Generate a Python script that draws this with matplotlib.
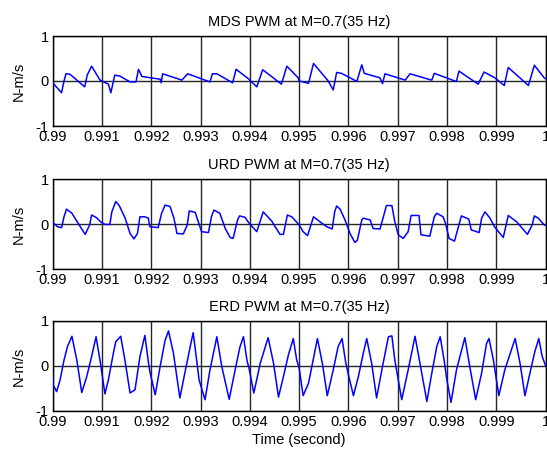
import matplotlib
matplotlib.use('Agg')
import matplotlib.pyplot as plt
import numpy as np

plt.rcParams['font.family'] = ['Liberation Sans', 'DejaVu Sans']
plt.rcParams['axes.unicode_minus'] = False

# time offsets in units of 0.1 ms after t = 0.99 s
mds_t = [0, 1.8, 2.3, 2.7, 3.5, 6.5, 7.0, 7.9, 9.6, 11.3, 11.8, 12.6, 13.6, 15.7, 16.9,
         17.4, 18.1, 21.8, 22.0, 22.3, 26.2, 27.4, 31.9, 32.4, 33.3, 36.5, 37.2, 39.7,
         41.4, 42.6, 46.4, 47.5, 49.8,
         50.0, 51.9, 52.9, 55.9, 56.9, 57.6, 58.6, 61.7, 62.7, 63.2, 66.4, 66.9, 67.4,
         71.5, 72.5, 76.2, 76.9, 77.4, 81.6, 81.9, 82.4, 86.3, 87.5, 89.7, 91.6, 92.4,
         96.5, 97.7, 99.7, 100]
mds_v = [-0.04, -0.26, 0.0, 0.16, 0.15, -0.13, 0.13, 0.33, 0.02, -0.07, -0.26, 0.13, 0.11,
         -0.02, -0.02, 0.26, 0.10, 0.04, -0.04, 0.16, 0.02, 0.16, -0.02, 0.16, 0.16, -0.04,
         0.26, 0.05, -0.13, 0.25, -0.07, 0.33, 0.07,
         0.0, -0.05, 0.39, 0.0, -0.2, 0.19, 0.17, -0.01, 0.36, 0.17, 0.07, -0.06, 0.16,
         0.02, 0.16, 0.04, 0.02, 0.17, 0.0, -0.01, 0.22, -0.07, 0.2, 0.07, -0.1, 0.3,
         -0.1, 0.35, 0.07, 0.05]

urd_t = [0, 0.95, 1.8, 2.3, 2.8, 3.9, 5.2, 6.6, 7.5, 7.9, 8.9, 9.7, 10.6, 11.6, 12.0,
         12.8, 13.5, 14.7, 15.7, 16.5, 17.2, 17.7, 18.7, 19.4, 19.7, 21.4, 22.1, 22.8,
         23.8, 24.6, 25.2, 26.5, 27.3, 27.7, 28.9, 29.3, 30.2, 31.6, 32.2, 32.7, 33.9,
         35.0, 36.0, 36.6, 37.5, 37.9, 39.0, 39.9, 41.4, 42.7, 44.4, 46.1, 46.8, 47.6,
         48.5, 50.0,
         50.8, 51.7, 52.9, 54.2, 55.6, 56.7, 57.2, 57.6, 58.3, 59.3, 60.3, 61.3, 61.8,
         62.7, 63.0, 64.4, 65.0, 66.4, 67.0, 67.7, 68.8, 69.4, 70.1, 71.1, 72.1, 72.7,
         74.3, 74.7, 76.5, 77.4, 77.9, 79.2, 79.7, 80.4, 81.5, 82.4, 82.9, 84.4, 84.9,
         86.5, 87.0, 87.7, 88.7, 89.6, 91.4, 92.4, 94.1, 96.3, 97.3, 97.7, 98.5, 99.7, 100]
urd_v = [0.04, -0.06, -0.08, 0.16, 0.33, 0.24, 0.01, -0.23, -0.02, 0.2, 0.14, 0.05, -0.01,
         -0.01, 0.27, 0.5, 0.41, 0.13, -0.21, -0.33, -0.21, 0.16, 0.16, 0.13, -0.06, -0.08,
         0.24, 0.42, 0.39, 0.13, -0.21, -0.22, -0.02, 0.29, 0.26, 0.13, -0.17, -0.19, 0.16,
         0.31, 0.24, -0.1, -0.3, -0.32, 0.09, 0.18, 0.15, 0.01, -0.17, 0.27, 0.07, -0.23,
         -0.23, 0.2, 0.16, -0.02,
         -0.17, -0.26, 0.16, 0.05, -0.06, -0.11, 0.27, 0.4, 0.33, 0.09, -0.21, -0.41, -0.36,
         0.09, 0.13, 0.09, -0.1, -0.11, 0.13, 0.41, 0.41, 0.05, -0.24, -0.32, -0.17, 0.19,
         0.19, -0.24, -0.27, 0.16, 0.24, 0.16, 0.01, -0.32, -0.38, -0.02, 0.18, 0.11, -0.13,
         -0.19, 0.13, 0.27, 0.13, -0.06, -0.3, 0.19, 0.05, -0.23, -0.01, 0.18, 0.13, -0.02,
         -0.03]

erd_t = [0, 0.1, 0.8, 1.5, 2.3, 3.0, 3.9, 4.9, 5.9, 6.9, 7.9, 8.8, 9.7, 10.6, 11.3, 12.3,
         12.8, 13.8, 14.7, 15.7, 16.7, 17.7, 18.7, 19.4, 19.7, 20.8, 21.8, 22.8, 23.5, 24.5,
         25.8, 26.8, 27.9, 28.5, 29.2, 29.7, 30.9, 31.9, 33.3, 34.3, 35.8, 37.0, 38.0, 38.7,
         39.4, 39.9, 40.8, 42.1, 43.7, 44.8, 45.8, 46.8, 47.8, 48.8, 49.5, 50.0,
         50.8, 51.9, 52.7, 53.7, 54.7, 55.7, 56.9, 57.9, 58.7, 59.4, 60.0, 61.0, 62.0, 63.0,
         63.7, 64.7, 65.7, 66.9, 68.1, 68.8, 69.4, 70.8, 72.1, 73.5, 74.5, 75.9, 76.9, 77.9,
         78.6, 79.4, 79.9, 80.8, 81.9, 83.6, 84.6, 85.8, 87.0, 88.0, 88.5, 89.4, 89.7, 90.5,
         91.7, 93.8, 94.8, 95.8, 96.8, 97.8, 98.6, 99.3, 100]
erd_v = [-0.24, -0.42, -0.57, -0.31, 0.13, 0.43, 0.66, 0.13, -0.59, -0.24, 0.21, 0.65, 0.06,
         -0.62, -0.31, 0.28, 0.54, 0.66, 0.10, -0.60, -0.53, 0.21, 0.68, 0.10, -0.12, -0.64,
         -0.01, 0.57, 0.78, 0.28, -0.71, -0.16, 0.43, 0.74, 0.13, -0.31, -0.75, -0.09, 0.65,
         -0.01, -0.74, -0.09, 0.43, 0.65, 0.13, -0.09, -0.60, 0.06, 0.63, 0.06, -0.69, -0.24,
         0.24, 0.61, 0.13, -0.05,
         -0.66, -0.38, 0.06, 0.61, 0.06, -0.66, -0.09, 0.43, 0.61, 0.10, -0.20, -0.66, -0.24,
         0.28, 0.61, 0.06, -0.71, -0.01, 0.65, 0.67, 0.13, -0.75, -0.09, 0.66, 0.06, -0.79,
         -0.16, 0.43, 0.65, 0.13, -0.27, -0.81, -0.09, 0.63, -0.01, -0.75, -0.16, 0.50, 0.61,
         0.13, -0.09, -0.66, -0.09, 0.61, 0.06, -0.66, -0.16, 0.32, 0.61, 0.21, 0.0]

titles = ['MDS PWM at M=0.7(35 Hz)', 'URD PWM at M=0.7(35 Hz)', 'ERD PWM at M=0.7(35 Hz)']
xticks = [0.99, 0.991, 0.992, 0.993, 0.994, 0.995, 0.996, 0.997, 0.998, 0.999, 1.0]
xticklabels = ['0.99', '0.991', '0.992', '0.993', '0.994', '0.995', '0.996', '0.997',
               '0.998', '0.999', '1']
yticks = [-1, 0, 1]
yticklabels = ['-1', '0', '1']

series = [(mds_t, mds_v), (urd_t, urd_v), (erd_t, erd_v)]
bottoms = [0.72, 0.4022, 0.0867]

fig = plt.figure(figsize=(5.47, 4.5), dpi=100)
fs = 10.5

for i, ((t_off, v), b) in enumerate(zip(series, bottoms)):
    ax = fig.add_axes([0.0963, b, 0.9013, 0.2])
    t = 0.99 + np.array(t_off) * 1e-4
    ax.plot(t, v, color='#0000ff', lw=1.1, zorder=3)
    ax.set_xlim(0.99, 1.0)
    ax.set_ylim(-1, 1)
    ax.set_xticks(xticks)
    ax.set_xticklabels(xticklabels)
    ax.set_yticks(yticks)
    ax.set_yticklabels(yticklabels)
    ax.grid(True, color='#262626', lw=1.0, ls='-')
    ax.tick_params(direction='in', length=0, labelsize=fs, pad=3,
                   top=True, right=True)
    for s in ax.spines.values():
        s.set_color('black')
        s.set_linewidth(1.0)
    ax.set_title(titles[i], fontsize=fs, pad=7)
    ax.set_ylabel('N-m/s', fontsize=fs)
    ax.yaxis.set_label_coords(-0.055, 0.5)
    if i == 2:
        ax.set_xlabel('Time (second)', fontsize=fs)
        ax.xaxis.set_label_coords(0.5, -0.245)

fig.savefig('out.png', dpi=100)
